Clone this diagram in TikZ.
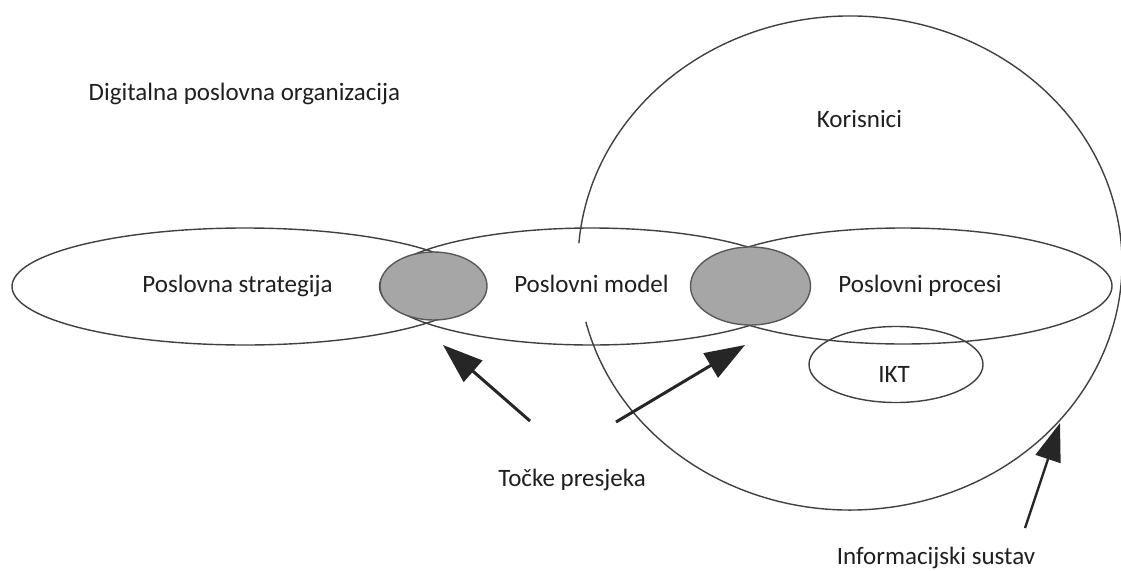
\documentclass[tikz,border=0pt]{standalone}
\usepackage{fontspec}
\setmainfont{Carlito}
\usetikzlibrary{shapes.geometric,arrows.meta}
\begin{document}
\begin{tikzpicture}[x=1pt,y=-1pt,
  line/.style={draw=black!75, line width=1.4pt},
  oval/.style={ellipse, line, inner sep=0pt, outer sep=0pt},
  hub/.style={oval, fill=black!35, draw=black!65},
  lbl/.style={font=\fontsize{25}{30}\selectfont, text=black!88, inner sep=0pt, anchor=base},
  pointer/.style={draw=black!85, line width=3pt, -{Triangle[length=40pt,width=28pt]}},
  thinpointer/.style={draw=black!85, line width=2.4pt, -{Triangle[length=38pt,width=26pt]}},
]
\useasboundingbox (0,0) rectangle (1121,570);

% information system boundary
\coordinate (bigc) at (850,263);
\draw[line] (bigc) ++(166.2:272 and 247) arc[start angle=166.2, end angle=-175.4, x radius=272, y radius=247];

% main ellipses
\node[oval, minimum width=466pt, minimum height=117pt] (strat) at (245,286.5) {};
\node[oval, minimum width=424pt, minimum height=117pt] (model) at (591.5,286.5) {};
\node[oval, minimum width=418pt, minimum height=116pt] (proc) at (903,286) {};
\node[oval, minimum width=174pt, minimum height=76pt] (ikt) at (896,364.5) {};

% intersection points
\node[hub, minimum width=107pt, minimum height=68pt] (x1) at (433.5,286) {};
\node[hub, minimum width=120pt, minimum height=78pt] (x2) at (750.5,286) {};

% labels
\node[lbl] (tdpo) at (244.5,100) {Digitalna poslovna organizacija};
\node[lbl] (tkor) at (859.5,127) {Korisnici};
\node[lbl] (tstrat) at (237.5,292) {Poslovna strategija};
\node[lbl] (tmodel) at (591.5,292) {Poslovni model};
\node[lbl] (tproc) at (920,292) {Poslovni procesi};
\node[lbl] (tikt) at (894,382) {IKT};
\node[lbl] (ttocke) at (572,486) {Točke presjeka};
\node[lbl] (tinfo) at (936,564) {Informacijski sustav};

% arrows
\coordinate (a1s) at (530,421);
\coordinate (a1e) at (443,345);
\coordinate (a2s) at (616,422);
\coordinate (a2e) at (745,345);
\coordinate (a3s) at (1025,528);
\coordinate (a3e) at (1060,423);
\draw[pointer] (a1s) -- (a1e);
\draw[pointer] (a2s) -- (a2e);
\draw[thinpointer] (a3s) -- (a3e);
\end{tikzpicture}
\end{document}
